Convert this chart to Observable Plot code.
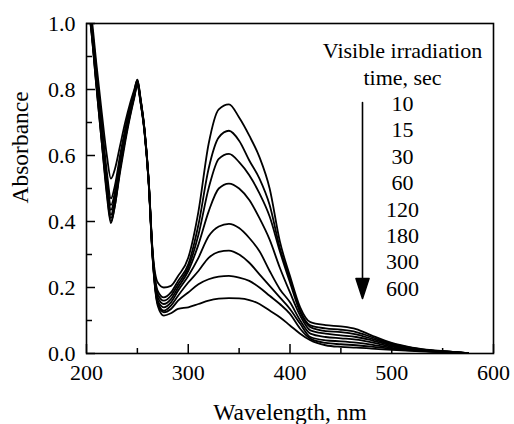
<!DOCTYPE html>
<html><head><meta charset="utf-8">
<script src="https://cdn.jsdelivr.net/npm/d3@7"></script>
<script src="https://cdn.jsdelivr.net/npm/@observablehq/plot@0.6"></script>
<style>
html,body{margin:0;padding:0;background:#fff}
</style>
</head><body><div id="chart"></div>
<script>
const wavelength = [200,205,210,215,220,224,228,233,238,243,247,250,253,257,261,265,270,276,283,290,300,310,320,330,340,350,360,370,380,390,400,410,420,435,450,465,480,500,520,540,560,575];
const times = ["10","15","30","60","120","180","300","600"];
const abs10s  = [1.14,1.02,0.87,0.73,0.60,0.53,0.56,0.63,0.70,0.76,0.80,0.83,0.775,0.68,0.53,0.31,0.215,0.20,0.205,0.235,0.29,0.43,0.635,0.74,0.755,0.715,0.66,0.595,0.50,0.34,0.235,0.14,0.095,0.086,0.082,0.074,0.055,0.032,0.018,0.010,0.005,0.001];
const abs15s  = [1.13,1.00,0.85,0.70,0.55,0.47,0.51,0.60,0.68,0.75,0.795,0.83,0.775,0.68,0.53,0.305,0.19,0.17,0.185,0.22,0.27,0.39,0.56,0.655,0.675,0.645,0.585,0.53,0.45,0.32,0.225,0.13,0.085,0.076,0.072,0.065,0.05,0.030,0.017,0.009,0.005,0.001];
const abs30s  = [1.12,0.99,0.84,0.68,0.53,0.45,0.49,0.59,0.67,0.745,0.79,0.825,0.772,0.678,0.528,0.30,0.18,0.16,0.175,0.21,0.26,0.36,0.50,0.59,0.605,0.58,0.54,0.485,0.415,0.31,0.215,0.125,0.08,0.068,0.065,0.058,0.045,0.027,0.015,0.009,0.004,0.001];
const abs60s  = [1.12,0.99,0.83,0.67,0.52,0.435,0.48,0.58,0.67,0.74,0.79,0.825,0.77,0.676,0.526,0.30,0.17,0.15,0.165,0.20,0.25,0.33,0.43,0.50,0.515,0.50,0.465,0.41,0.345,0.26,0.185,0.115,0.07,0.06,0.055,0.05,0.04,0.024,0.014,0.008,0.004,0.001];
const abs120s = [1.11,0.98,0.82,0.66,0.51,0.42,0.47,0.57,0.66,0.735,0.785,0.82,0.768,0.675,0.525,0.295,0.16,0.14,0.155,0.19,0.235,0.29,0.355,0.385,0.393,0.38,0.35,0.31,0.25,0.195,0.155,0.10,0.06,0.05,0.046,0.042,0.034,0.021,0.012,0.007,0.004,0.001];
const abs180s = [1.11,0.98,0.81,0.65,0.50,0.41,0.46,0.56,0.65,0.73,0.78,0.82,0.766,0.674,0.524,0.293,0.155,0.13,0.145,0.175,0.215,0.25,0.29,0.308,0.312,0.30,0.275,0.24,0.205,0.17,0.135,0.09,0.05,0.04,0.037,0.033,0.027,0.017,0.010,0.006,0.003,0.001];
const abs300s = [1.10,0.97,0.80,0.64,0.49,0.40,0.45,0.56,0.65,0.725,0.78,0.815,0.764,0.672,0.522,0.29,0.15,0.125,0.135,0.16,0.185,0.21,0.225,0.233,0.235,0.23,0.22,0.20,0.175,0.15,0.12,0.075,0.045,0.032,0.028,0.025,0.021,0.014,0.009,0.006,0.003,0.001];
const abs600s = [1.10,0.97,0.80,0.64,0.48,0.395,0.45,0.55,0.64,0.72,0.775,0.815,0.762,0.67,0.52,0.288,0.145,0.115,0.122,0.135,0.14,0.15,0.16,0.166,0.168,0.167,0.162,0.15,0.13,0.11,0.085,0.06,0.04,0.025,0.02,0.018,0.015,0.011,0.008,0.005,0.003,0.001];
const legendTitle = ["Visible irradiation", "time, sec"];
const xMajorTicks = [200, 300, 400, 500, 600];
const xMinorTicks = [250, 350, 450, 550];
const yMajorTicks = [0, 0.2, 0.4, 0.6, 0.8, 1.0];
const yMinorTicks = [0.1, 0.3, 0.5, 0.7, 0.9];
const xLabel = "Wavelength, nm";
const yLabel = "Absorbance";

const series = [abs10s, abs15s, abs30s, abs60s, abs120s, abs180s, abs300s, abs600s];
const rows = series.flatMap((s, i) => s.map((a, j) => ({time: times[i], wavelength: wavelength[j], absorbance: a})));

const arrowShape = {
  draw(context, l) {
    const h = 20, w = 6.5;
    context.moveTo(0, 0);
    context.lineTo(0, -(l - h));
    context.moveTo(-w, -(l - h));
    context.lineTo(w, -(l - h));
    context.lineTo(0, -l);
    context.closePath();
  }
};

const chart = Plot.plot({
  width: 514, height: 424,
  marginLeft: 86, marginRight: 21, marginTop: 23, marginBottom: 71,
  style: "font-family: 'Liberation Serif', 'Times New Roman', serif; font-size: 22px; color: #000; background: #fff;",
  x: {domain: [200, 600]},
  y: {domain: [0, 1]},
  marks: [
    Plot.line(rows, {x: "wavelength", y: "absorbance", z: "time", stroke: "#000", strokeWidth: 1.8, curve: "monotone-x", clip: true}),
    Plot.frame({stroke: "#000", strokeWidth: 1.6}),
    Plot.axisX(xMajorTicks, {tickSize: -9, tickPadding: 20, strokeWidth: 1.5, fontSize: 22, label: null}),
    Plot.axisX(xMinorTicks, {tickSize: -5, strokeWidth: 1.5, text: null, label: null}),
    Plot.axisY(yMajorTicks, {tickSize: -9, tickPadding: 20, strokeWidth: 1.5, fontSize: 22, tickFormat: d3.format(".1f"), label: null}),
    Plot.axisY(yMinorTicks, {tickSize: -6, strokeWidth: 1.5, text: null, label: null}),
    Plot.text([xLabel], {frameAnchor: "bottom", dy: 66, lineAnchor: "bottom", fontSize: 23.5}),
    Plot.text([yLabel], {frameAnchor: "left", dx: -66, dy: 15, rotate: -90, fontSize: 23.5}),
    Plot.text([legendTitle.concat(times).join("\n")], {frameAnchor: "top-right", dx: -91, dy: 145, lineAnchor: "middle", lineHeight: 1.2, textAnchor: "middle", fontSize: 22}),
    Plot.vector([0], {frameAnchor: "top-right", dx: -131, dy: 79, length: 196, rotate: 180, anchor: "start", shape: arrowShape, stroke: "#000", fill: "#000", strokeWidth: 1.6})
  ]
});
document.getElementById("chart").appendChild(chart);
</script>
</body></html>
